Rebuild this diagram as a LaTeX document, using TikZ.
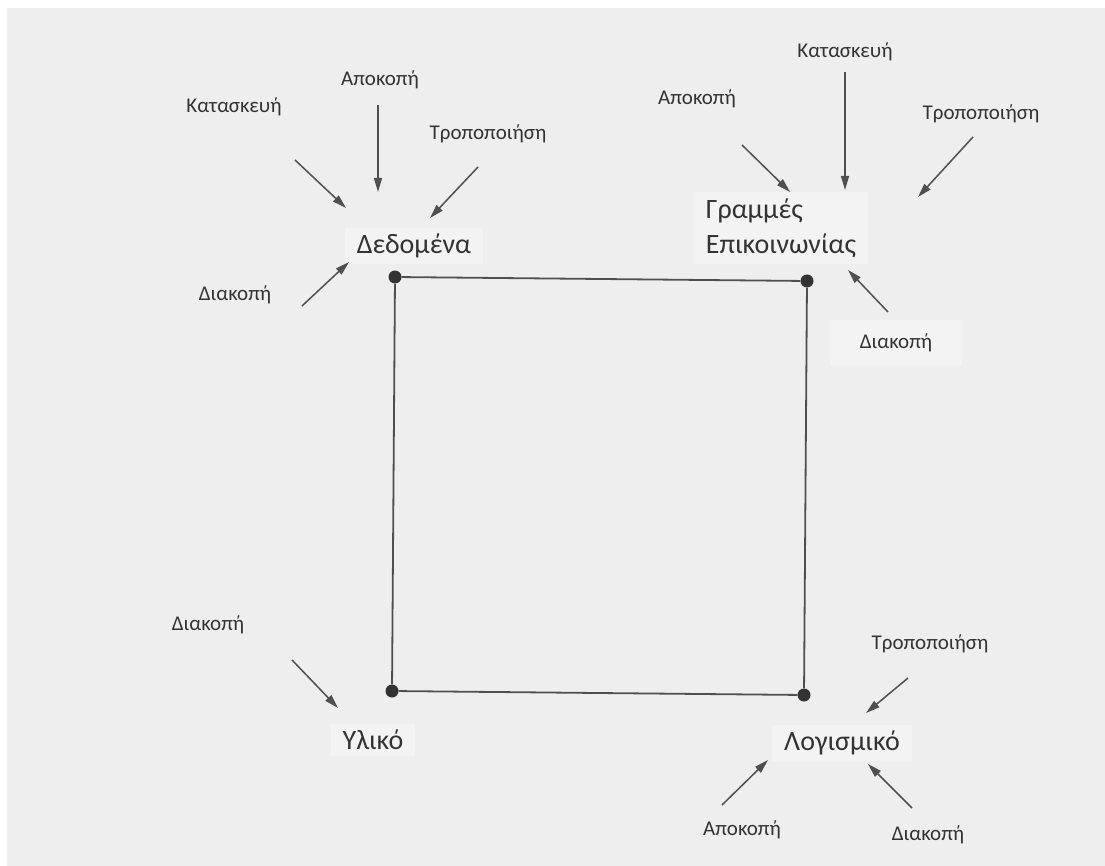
\documentclass[tikz,border=0pt]{standalone}
\usepackage{fontspec}
\setmainfont{Carlito}
\usetikzlibrary{arrows.meta}
\definecolor{paper}{HTML}{EEEEEE}
\definecolor{labelbg}{HTML}{F3F3F3}
\definecolor{ink}{HTML}{333333}
\definecolor{edge}{HTML}{4F4F4F}
\begin{document}
\begin{tikzpicture}[x=1pt,y=-1pt,
  small/.style={font=\fontsize{21}{25}\selectfont, text=ink, inner sep=3pt},
  big/.style={font=\fontsize{28}{35}\selectfont, text=ink, fill=labelbg, inner xsep=12pt, inner ysep=6pt},
  corner/.style={circle, fill=ink, inner sep=0pt, minimum size=13pt},
  side/.style={draw=edge, line width=1.8pt},
  hit/.style={draw=edge, line width=1.5pt, -{Triangle[length=14pt,width=8pt]}}]
\useasboundingbox (0,0) rectangle (1105,866);
\fill[white] (0,0) rectangle (1105,866);
\fill[paper] (7,8) rectangle (1105,866);

% the four components and the square joining them
\node[corner] (cTL) at (395,277) {};
\node[corner] (cTR) at (807,281) {};
\node[corner] (cBR) at (804,695) {};
\node[corner] (cBL) at (392,691) {};
\draw[side] (cTL) -- (cTR) -- (cBR) -- (cBL) -- (cTL);

% component names
\node[big] (data) at (414,246) {Δεδομένα};
\node[big, align=left] (lines) at (781,228) {Γραμμές\\Επικοινωνίας};
\node[big] (hw) at (373,740) {Υλικό};
\node[big] (sw) at (842,743) {Λογισμικό};

% threats around the data
\node[small] (dCut) at (380,80) {Αποκοπή};
\node[small] (dMake) at (234,107) {Κατασκευή};
\node[small] (dMod) at (488,134) {Τροποποιήση};
\node[small] (dStop) at (235,295) {Διακοπή};
\coordinate (dCutS) at (378,105);  \coordinate (dCutE) at (378,192);
\coordinate (dMakeS) at (295,160); \coordinate (dMakeE) at (346,208);
\coordinate (dModS) at (478,167);  \coordinate (dModE) at (430,218);
\coordinate (dStopS) at (302,306); \coordinate (dStopE) at (349,262);
\draw[hit] (dCutS) -- (dCutE);
\draw[hit] (dMakeS) -- (dMakeE);
\draw[hit] (dModS) -- (dModE);
\draw[hit] (dStopS) -- (dStopE);

% threats around the communication lines
\node[small] (lMake) at (845,52) {Κατασκευή};
\node[small] (lCut) at (697,99) {Αποκοπή};
\node[small] (lMod) at (981,114) {Τροποποιήση};
\node[small, fill=labelbg, inner xsep=30pt, inner ysep=14pt] (lStop) at (896,343) {Διακοπή};
\coordinate (lMakeS) at (845,72);  \coordinate (lMakeE) at (845,190);
\coordinate (lCutS) at (742,145);  \coordinate (lCutE) at (790,192);
\coordinate (lModS) at (973,137);  \coordinate (lModE) at (918,197);
\coordinate (lStopS) at (888,312); \coordinate (lStopE) at (848,270);
\draw[hit] (lMakeS) -- (lMakeE);
\draw[hit] (lCutS) -- (lCutE);
\draw[hit] (lModS) -- (lModE);
\draw[hit] (lStopS) -- (lStopE);

% threats around the hardware
\node[small] (hStop) at (208,625) {Διακοπή};
\coordinate (hStopS) at (292,660); \coordinate (hStopE) at (338,708);
\draw[hit] (hStopS) -- (hStopE);

% threats around the software
\node[small] (sMod) at (930,644) {Τροποποιήση};
\node[small] (sCut) at (742,830) {Αποκοπή};
\node[small] (sStop) at (928,835) {Διακοπή};
\coordinate (sModS) at (908,678);  \coordinate (sModE) at (866,713);
\coordinate (sCutS) at (722,805);  \coordinate (sCutE) at (768,760);
\coordinate (sStopS) at (912,808); \coordinate (sStopE) at (868,764);
\draw[hit] (sModS) -- (sModE);
\draw[hit] (sCutS) -- (sCutE);
\draw[hit] (sStopS) -- (sStopE);
\end{tikzpicture}
\end{document}
